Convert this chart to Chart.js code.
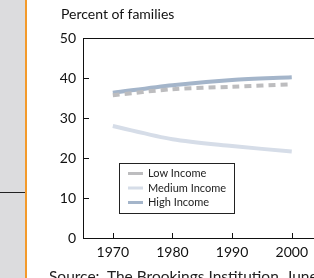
<!DOCTYPE html>
<html><head><meta charset="utf-8">
<script src="https://cdn.jsdelivr.net/npm/chart.js@4/dist/chart.umd.min.js"></script>
<style>
html,body{margin:0;padding:0;width:314px;height:278px;overflow:hidden;background:#fff;font-family:Lato,sans-serif;}
#side{position:absolute;left:0;top:0;width:25px;height:278px;background:#dcdcde;}
#orange{position:absolute;left:25px;top:0;width:2px;height:278px;background:#f39a2b;}
#rule{position:absolute;left:0;top:192px;width:25px;height:1px;background:#222;}
#wrap{position:absolute;left:27px;top:0;width:287px;height:278px;}
#title{position:absolute;left:61px;top:5px;font-size:14px;color:#111;white-space:nowrap;}
#source{position:absolute;left:49px;top:267px;font-size:15.5px;color:#222;white-space:nowrap;}
</style></head>
<body>
<div id="side"></div><div id="orange"></div><div id="rule"></div>
<div id="wrap"><canvas id="c" width="287" height="278"></canvas></div>
<div id="title">Percent of families</div>
<div id="source">Source:&nbsp; The Brookings Institution, June 2003</div>
<script>
const years = [1970, 1980, 1990, 2000];
const lowIncome = [35.7, 37.2, 37.8, 38.4];
const mediumIncome = [28.0, 24.7, 23.0, 21.6];
const highIncome = [36.3, 38.2, 39.5, 40.2];
const yTicks = [0, 10, 20, 30, 40, 50];

const FONT = {family: 'Lato, sans-serif', size: 14};

const framePlugin = {
  id: 'frame',
  afterDraw(chart) {
    const ctx = chart.ctx, a = chart.chartArea;
    const xs = chart.scales.x, ys = chart.scales.y;
    ctx.save();
    ctx.strokeStyle = '#111';
    ctx.lineWidth = 1;
    ctx.beginPath();
    ctx.moveTo(a.left + 0.5, a.top + 0.5);
    ctx.lineTo(chart.width, a.top + 0.5);
    ctx.moveTo(a.left + 0.5, a.top);
    ctx.lineTo(a.left + 0.5, a.bottom + 0.5);
    ctx.lineTo(chart.width, a.bottom + 0.5);
    yTicks.forEach(v => {
      const y = Math.round(ys.getPixelForValue(v)) + 0.5;
      ctx.moveTo(a.left, y); ctx.lineTo(a.left + 6, y);
    });
    years.forEach(v => {
      const x = Math.round(xs.getPixelForValue(v)) + 0.5;
      ctx.moveTo(x, a.bottom); ctx.lineTo(x, a.bottom - 5);
    });
    ctx.stroke();
    ctx.restore();
  }
};

const legendPlugin = {
  id: 'boxLegend',
  afterDraw(chart) {
    const ctx = chart.ctx;
    const bx = 92, by = 163, bw = 115, bh = 50;
    ctx.save();
    ctx.fillStyle = '#fff';
    ctx.fillRect(bx, by, bw, bh);
    ctx.strokeStyle = '#222';
    ctx.lineWidth = 1;
    ctx.strokeRect(bx + 0.5, by + 0.5, bw, bh);
    ctx.font = '11px Lato, sans-serif';
    ctx.textBaseline = 'middle';
    chart.data.datasets.forEach((ds, i) => {
      const y = by + 10.5 + i * 14.5;
      ctx.fillStyle = ds.borderColor;
      ctx.fillRect(bx + 9, y - 1.5, 15, 3);
      ctx.fillStyle = '#222';
      ctx.fillText(ds.label, bx + 29, y);
    });
    ctx.restore();
  }
};

new Chart(document.getElementById('c'), {
  type: 'line',
  data: {
    datasets: [
      {label: 'Low Income', data: years.map((y, i) => ({x: y, y: lowIncome[i]})), borderColor: '#bdbdbf', borderWidth: 4, borderDash: [7, 5], pointRadius: 0, tension: 0.3},
      {label: 'Medium Income', data: years.map((y, i) => ({x: y, y: mediumIncome[i]})), borderColor: '#d6dde8', borderWidth: 4, pointRadius: 0, tension: 0.3},
      {label: 'High Income', data: years.map((y, i) => ({x: y, y: highIncome[i]})), borderColor: '#a4b5ca', borderWidth: 4, pointRadius: 0, tension: 0.3}
    ]
  },
  options: {
    responsive: false,
    animation: false,
    devicePixelRatio: 1,
    layout: {padding: {top: 38, right: 0, left: 0, bottom: 0}},
    plugins: {legend: {display: false}, tooltip: {enabled: false}},
    scales: {
      x: {
        type: 'linear', min: 1965, max: 2003,
        afterBuildTicks: s => { s.ticks = years.map(v => ({value: v})); },
        afterFit: s => { s.height = 40; },
        grid: {display: false, drawTicks: false}, border: {display: false},
        ticks: {color: '#111', font: FONT, padding: 6, maxRotation: 0, callback: v => String(v)}
      },
      y: {
        min: 0, max: 50,
        afterBuildTicks: s => { s.ticks = yTicks.map(v => ({value: v})); },
        afterFit: s => { s.width = 56; },
        grid: {display: false, drawTicks: false}, border: {display: false},
        ticks: {color: '#111', font: FONT, padding: 7}
      }
    }
  },
  plugins: [framePlugin, legendPlugin]
});
</script>
</body></html>
